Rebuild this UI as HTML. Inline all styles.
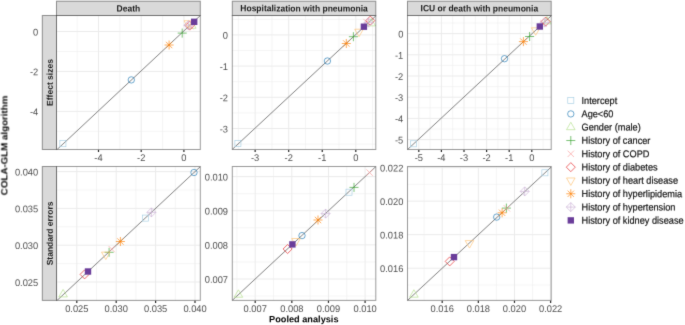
<!DOCTYPE html><html><head><meta charset="utf-8"><style>html,body{margin:0;padding:0;background:#fff;width:685px;height:325px;overflow:hidden}svg{display:block;will-change:transform}text{font-family:"Liberation Sans", sans-serif;text-rendering:geometricPrecision}</style></head><body>
<svg width="685" height="325" viewBox="0 0 685 325">
<rect width="685" height="325" fill="#fff"/>
<defs><filter id="bl" x="0" y="0" width="685" height="325" filterUnits="userSpaceOnUse" color-interpolation-filters="sRGB"><feConvolveMatrix order="3" kernelMatrix="0.0183 0.1353 0.0183 0.1353 1 0.1353 0.0183 0.1353 0.0183" edgeMode="duplicate" preserveAlpha="false"/></filter>
<clipPath id="cp00"><rect x="56.5" y="15.5" width="143.8" height="134"/></clipPath>
<clipPath id="cp01"><rect x="232.3" y="15.5" width="143.5" height="134"/></clipPath>
<clipPath id="cp02"><rect x="407.5" y="15.5" width="143.7" height="134"/></clipPath>
<clipPath id="cp10"><rect x="56.5" y="166.5" width="143.8" height="133.9"/></clipPath>
<clipPath id="cp11"><rect x="232.3" y="166.5" width="143.5" height="133.9"/></clipPath>
<clipPath id="cp12"><rect x="407.5" y="166.5" width="143.7" height="133.9"/></clipPath>
</defs>
<g filter="url(#bl)">
<rect width="685" height="325" fill="#fff"/>
<g clip-path="url(#cp00)">
<line x1="77.15" y1="15.5" x2="77.15" y2="149.5" stroke="#ececec" stroke-width="0.55"/>
<line x1="119.85" y1="15.5" x2="119.85" y2="149.5" stroke="#ececec" stroke-width="0.55"/>
<line x1="162.55" y1="15.5" x2="162.55" y2="149.5" stroke="#ececec" stroke-width="0.55"/>
<line x1="56.5" y1="131.35" x2="200.3" y2="131.35" stroke="#ececec" stroke-width="0.55"/>
<line x1="56.5" y1="91.41" x2="200.3" y2="91.41" stroke="#ececec" stroke-width="0.55"/>
<line x1="56.5" y1="51.47" x2="200.3" y2="51.47" stroke="#ececec" stroke-width="0.55"/>
<line x1="98.5" y1="15.5" x2="98.5" y2="149.5" stroke="#ebebeb" stroke-width="1"/>
<line x1="141.2" y1="15.5" x2="141.2" y2="149.5" stroke="#ebebeb" stroke-width="1"/>
<line x1="183.9" y1="15.5" x2="183.9" y2="149.5" stroke="#ebebeb" stroke-width="1"/>
<line x1="56.5" y1="111.38" x2="200.3" y2="111.38" stroke="#ebebeb" stroke-width="1"/>
<line x1="56.5" y1="71.44" x2="200.3" y2="71.44" stroke="#ebebeb" stroke-width="1"/>
<line x1="56.5" y1="31.5" x2="200.3" y2="31.5" stroke="#ebebeb" stroke-width="1"/>
<line x1="51.5" y1="154.74" x2="205.3" y2="10.88" stroke="#555" stroke-width="0.75"/>
<rect x="59.87" y="140.67" width="6.06" height="6.06" fill="none" stroke="#A6CEE3" stroke-width="0.65"/>
<circle cx="131.3" cy="79.9" r="3.19" fill="none" stroke="#1F78B4" stroke-width="0.65"/>
<polygon points="191.8,20.84 196.09,28.28 187.51,28.28" fill="none" stroke="#B2DF8A" stroke-width="0.65" stroke-linejoin="miter"/>
<path d="M177.69 33.1H186.71M182.2 28.59V37.61" fill="none" stroke="#33A02C" stroke-width="0.65"/>
<path d="M187.11 23.01L193.49 29.39M187.11 29.39L193.49 23.01" fill="none" stroke="#FB9A99" stroke-width="0.65"/>
<polygon points="189.6,21.09 194.11,25.6 189.6,30.11 185.09,25.6" fill="none" stroke="#E31A1C" stroke-width="0.65"/>
<polygon points="188.3,28.16 192.59,20.72 184.01,20.72" fill="none" stroke="#FDBF6F" stroke-width="0.65" stroke-linejoin="miter"/>
<path d="M165.91 41.81L172.29 48.19M165.91 48.19L172.29 41.81M164.59 45H173.61M169.1 40.49V49.51" fill="none" stroke="#FF7F00" stroke-width="0.65"/>
<path d="M188.4 20.69L192.91 25.2L188.4 29.71L183.89 25.2ZM183.89 25.2H192.91M188.4 20.69V29.71" fill="none" stroke="#CAB2D6" stroke-width="0.65"/>
<rect x="191.01" y="18.61" width="6.38" height="6.38" fill="#6A3D9A"/>
</g>
<rect x="56.5" y="15.5" width="143.8" height="134" fill="none" stroke="#000" stroke-opacity="0.4" stroke-width="1"/>
<line x1="98.5" y1="149.9" x2="98.5" y2="152" stroke="#222" stroke-width="1.2"/>
<text transform="translate(98.5 161) rotate(0.05) scale(1 1.04)" font-size="9.3" fill="#4d4d4d" text-anchor="middle">-4</text>
<line x1="141.2" y1="149.9" x2="141.2" y2="152" stroke="#222" stroke-width="1.2"/>
<text transform="translate(141.2 161) rotate(0.05) scale(1 1.04)" font-size="9.3" fill="#4d4d4d" text-anchor="middle">-2</text>
<line x1="183.9" y1="149.9" x2="183.9" y2="152" stroke="#222" stroke-width="1.2"/>
<text transform="translate(183.9 161) rotate(0.05) scale(1 1.04)" font-size="9.3" fill="#4d4d4d" text-anchor="middle">0</text>
<text transform="translate(38.2 115.28) rotate(0.05) scale(1 1.04)" font-size="9.3" fill="#4d4d4d" text-anchor="end">-4</text>
<text transform="translate(38.2 75.34) rotate(0.05) scale(1 1.04)" font-size="9.3" fill="#4d4d4d" text-anchor="end">-2</text>
<text transform="translate(38.2 35.4) rotate(0.05) scale(1 1.04)" font-size="9.3" fill="#4d4d4d" text-anchor="end">0</text>
<g clip-path="url(#cp01)">
<line x1="238.38" y1="15.5" x2="238.38" y2="149.5" stroke="#ececec" stroke-width="0.55"/>
<line x1="271.93" y1="15.5" x2="271.93" y2="149.5" stroke="#ececec" stroke-width="0.55"/>
<line x1="305.48" y1="15.5" x2="305.48" y2="149.5" stroke="#ececec" stroke-width="0.55"/>
<line x1="339.03" y1="15.5" x2="339.03" y2="149.5" stroke="#ececec" stroke-width="0.55"/>
<line x1="372.57" y1="15.5" x2="372.57" y2="149.5" stroke="#ececec" stroke-width="0.55"/>
<line x1="232.3" y1="144.1" x2="375.8" y2="144.1" stroke="#ececec" stroke-width="0.55"/>
<line x1="232.3" y1="112.9" x2="375.8" y2="112.9" stroke="#ececec" stroke-width="0.55"/>
<line x1="232.3" y1="81.7" x2="375.8" y2="81.7" stroke="#ececec" stroke-width="0.55"/>
<line x1="232.3" y1="50.5" x2="375.8" y2="50.5" stroke="#ececec" stroke-width="0.55"/>
<line x1="232.3" y1="19.3" x2="375.8" y2="19.3" stroke="#ececec" stroke-width="0.55"/>
<line x1="255.15" y1="15.5" x2="255.15" y2="149.5" stroke="#ebebeb" stroke-width="1"/>
<line x1="288.7" y1="15.5" x2="288.7" y2="149.5" stroke="#ebebeb" stroke-width="1"/>
<line x1="322.25" y1="15.5" x2="322.25" y2="149.5" stroke="#ebebeb" stroke-width="1"/>
<line x1="355.8" y1="15.5" x2="355.8" y2="149.5" stroke="#ebebeb" stroke-width="1"/>
<line x1="232.3" y1="128.5" x2="375.8" y2="128.5" stroke="#ebebeb" stroke-width="1"/>
<line x1="232.3" y1="97.3" x2="375.8" y2="97.3" stroke="#ebebeb" stroke-width="1"/>
<line x1="232.3" y1="66.1" x2="375.8" y2="66.1" stroke="#ebebeb" stroke-width="1"/>
<line x1="232.3" y1="34.9" x2="375.8" y2="34.9" stroke="#ebebeb" stroke-width="1"/>
<line x1="227.3" y1="154" x2="380.8" y2="11.25" stroke="#555" stroke-width="0.75"/>
<rect x="234.87" y="140.37" width="6.06" height="6.06" fill="none" stroke="#A6CEE3" stroke-width="0.65"/>
<circle cx="327.4" cy="61" r="3.19" fill="none" stroke="#1F78B4" stroke-width="0.65"/>
<polygon points="371.2,18.44 375.49,25.88 366.91,25.88" fill="none" stroke="#B2DF8A" stroke-width="0.65" stroke-linejoin="miter"/>
<path d="M348.89 36.7H357.91M353.4 32.19V41.21" fill="none" stroke="#33A02C" stroke-width="0.65"/>
<path d="M363.31 18.81L369.69 25.19M363.31 25.19L369.69 18.81" fill="none" stroke="#FB9A99" stroke-width="0.65"/>
<polygon points="370.3,16.09 374.81,20.6 370.3,25.11 365.79,20.6" fill="none" stroke="#E31A1C" stroke-width="0.65"/>
<polygon points="359,36.66 363.29,29.22 354.71,29.22" fill="none" stroke="#FDBF6F" stroke-width="0.65" stroke-linejoin="miter"/>
<path d="M343.11 40.31L349.49 46.69M343.11 46.69L349.49 40.31M341.79 43.5H350.81M346.3 38.99V48.01" fill="none" stroke="#FF7F00" stroke-width="0.65"/>
<path d="M368.5 18.09L373.01 22.6L368.5 27.11L363.99 22.6ZM363.99 22.6H373.01M368.5 18.09V27.11" fill="none" stroke="#CAB2D6" stroke-width="0.65"/>
<rect x="360.71" y="23.51" width="6.38" height="6.38" fill="#6A3D9A"/>
</g>
<rect x="232.3" y="15.5" width="143.5" height="134" fill="none" stroke="#000" stroke-opacity="0.4" stroke-width="1"/>
<line x1="255.15" y1="149.9" x2="255.15" y2="152" stroke="#222" stroke-width="1.2"/>
<text transform="translate(255.15 161) rotate(0.05) scale(1 1.04)" font-size="9.3" fill="#4d4d4d" text-anchor="middle">-3</text>
<line x1="288.7" y1="149.9" x2="288.7" y2="152" stroke="#222" stroke-width="1.2"/>
<text transform="translate(288.7 161) rotate(0.05) scale(1 1.04)" font-size="9.3" fill="#4d4d4d" text-anchor="middle">-2</text>
<line x1="322.25" y1="149.9" x2="322.25" y2="152" stroke="#222" stroke-width="1.2"/>
<text transform="translate(322.25 161) rotate(0.05) scale(1 1.04)" font-size="9.3" fill="#4d4d4d" text-anchor="middle">-1</text>
<line x1="355.8" y1="149.9" x2="355.8" y2="152" stroke="#222" stroke-width="1.2"/>
<text transform="translate(355.8 161) rotate(0.05) scale(1 1.04)" font-size="9.3" fill="#4d4d4d" text-anchor="middle">0</text>
<text transform="translate(228 132.4) rotate(0.05) scale(1 1.04)" font-size="9.3" fill="#4d4d4d" text-anchor="end">-3</text>
<text transform="translate(228 101.2) rotate(0.05) scale(1 1.04)" font-size="9.3" fill="#4d4d4d" text-anchor="end">-2</text>
<text transform="translate(228 70) rotate(0.05) scale(1 1.04)" font-size="9.3" fill="#4d4d4d" text-anchor="end">-1</text>
<text transform="translate(228 38.8) rotate(0.05) scale(1 1.04)" font-size="9.3" fill="#4d4d4d" text-anchor="end">0</text>
<g clip-path="url(#cp02)">
<line x1="407.5" y1="15.5" x2="407.5" y2="149.5" stroke="#ececec" stroke-width="0.55"/>
<line x1="430.1" y1="15.5" x2="430.1" y2="149.5" stroke="#ececec" stroke-width="0.55"/>
<line x1="452.7" y1="15.5" x2="452.7" y2="149.5" stroke="#ececec" stroke-width="0.55"/>
<line x1="475.3" y1="15.5" x2="475.3" y2="149.5" stroke="#ececec" stroke-width="0.55"/>
<line x1="497.9" y1="15.5" x2="497.9" y2="149.5" stroke="#ececec" stroke-width="0.55"/>
<line x1="520.5" y1="15.5" x2="520.5" y2="149.5" stroke="#ececec" stroke-width="0.55"/>
<line x1="543.1" y1="15.5" x2="543.1" y2="149.5" stroke="#ececec" stroke-width="0.55"/>
<line x1="407.5" y1="150.2" x2="551.2" y2="150.2" stroke="#ececec" stroke-width="0.55"/>
<line x1="407.5" y1="129" x2="551.2" y2="129" stroke="#ececec" stroke-width="0.55"/>
<line x1="407.5" y1="107.8" x2="551.2" y2="107.8" stroke="#ececec" stroke-width="0.55"/>
<line x1="407.5" y1="86.6" x2="551.2" y2="86.6" stroke="#ececec" stroke-width="0.55"/>
<line x1="407.5" y1="65.4" x2="551.2" y2="65.4" stroke="#ececec" stroke-width="0.55"/>
<line x1="407.5" y1="44.2" x2="551.2" y2="44.2" stroke="#ececec" stroke-width="0.55"/>
<line x1="407.5" y1="23" x2="551.2" y2="23" stroke="#ececec" stroke-width="0.55"/>
<line x1="418.8" y1="15.5" x2="418.8" y2="149.5" stroke="#ebebeb" stroke-width="1"/>
<line x1="441.4" y1="15.5" x2="441.4" y2="149.5" stroke="#ebebeb" stroke-width="1"/>
<line x1="464" y1="15.5" x2="464" y2="149.5" stroke="#ebebeb" stroke-width="1"/>
<line x1="486.6" y1="15.5" x2="486.6" y2="149.5" stroke="#ebebeb" stroke-width="1"/>
<line x1="509.2" y1="15.5" x2="509.2" y2="149.5" stroke="#ebebeb" stroke-width="1"/>
<line x1="531.8" y1="15.5" x2="531.8" y2="149.5" stroke="#ebebeb" stroke-width="1"/>
<line x1="407.5" y1="139.6" x2="551.2" y2="139.6" stroke="#ebebeb" stroke-width="1"/>
<line x1="407.5" y1="118.4" x2="551.2" y2="118.4" stroke="#ebebeb" stroke-width="1"/>
<line x1="407.5" y1="97.2" x2="551.2" y2="97.2" stroke="#ebebeb" stroke-width="1"/>
<line x1="407.5" y1="76" x2="551.2" y2="76" stroke="#ebebeb" stroke-width="1"/>
<line x1="407.5" y1="54.8" x2="551.2" y2="54.8" stroke="#ebebeb" stroke-width="1"/>
<line x1="407.5" y1="33.6" x2="551.2" y2="33.6" stroke="#ebebeb" stroke-width="1"/>
<line x1="402.5" y1="154.22" x2="556.2" y2="11.18" stroke="#555" stroke-width="0.75"/>
<rect x="410.37" y="140.77" width="6.06" height="6.06" fill="none" stroke="#A6CEE3" stroke-width="0.65"/>
<circle cx="504.5" cy="58.7" r="3.19" fill="none" stroke="#1F78B4" stroke-width="0.65"/>
<polygon points="547,16.44 551.29,23.88 542.71,23.88" fill="none" stroke="#B2DF8A" stroke-width="0.65" stroke-linejoin="miter"/>
<path d="M525.09 36.5H534.11M529.6 31.99V41.01" fill="none" stroke="#33A02C" stroke-width="0.65"/>
<path d="M540.31 20.01L546.69 26.39M540.31 26.39L546.69 20.01" fill="none" stroke="#FB9A99" stroke-width="0.65"/>
<polygon points="545.6,17.09 550.11,21.6 545.6,26.11 541.09,21.6" fill="none" stroke="#E31A1C" stroke-width="0.65"/>
<polygon points="535.7,35.26 539.99,27.82 531.41,27.82" fill="none" stroke="#FDBF6F" stroke-width="0.65" stroke-linejoin="miter"/>
<path d="M520.21 38.41L526.59 44.79M520.21 44.79L526.59 38.41M518.89 41.6H527.91M523.4 37.09V46.11" fill="none" stroke="#FF7F00" stroke-width="0.65"/>
<path d="M544.6 18.09L549.11 22.6L544.6 27.11L540.09 22.6ZM540.09 22.6H549.11M544.6 18.09V27.11" fill="none" stroke="#CAB2D6" stroke-width="0.65"/>
<rect x="536.61" y="23.31" width="6.38" height="6.38" fill="#6A3D9A"/>
</g>
<rect x="407.5" y="15.5" width="143.7" height="134" fill="none" stroke="#000" stroke-opacity="0.4" stroke-width="1"/>
<line x1="418.8" y1="149.9" x2="418.8" y2="152" stroke="#222" stroke-width="1.2"/>
<text transform="translate(418.8 161) rotate(0.05) scale(1 1.04)" font-size="9.3" fill="#4d4d4d" text-anchor="middle">-5</text>
<line x1="441.4" y1="149.9" x2="441.4" y2="152" stroke="#222" stroke-width="1.2"/>
<text transform="translate(441.4 161) rotate(0.05) scale(1 1.04)" font-size="9.3" fill="#4d4d4d" text-anchor="middle">-4</text>
<line x1="464" y1="149.9" x2="464" y2="152" stroke="#222" stroke-width="1.2"/>
<text transform="translate(464 161) rotate(0.05) scale(1 1.04)" font-size="9.3" fill="#4d4d4d" text-anchor="middle">-3</text>
<line x1="486.6" y1="149.9" x2="486.6" y2="152" stroke="#222" stroke-width="1.2"/>
<text transform="translate(486.6 161) rotate(0.05) scale(1 1.04)" font-size="9.3" fill="#4d4d4d" text-anchor="middle">-2</text>
<line x1="509.2" y1="149.9" x2="509.2" y2="152" stroke="#222" stroke-width="1.2"/>
<text transform="translate(509.2 161) rotate(0.05) scale(1 1.04)" font-size="9.3" fill="#4d4d4d" text-anchor="middle">-1</text>
<line x1="531.8" y1="149.9" x2="531.8" y2="152" stroke="#222" stroke-width="1.2"/>
<text transform="translate(531.8 161) rotate(0.05) scale(1 1.04)" font-size="9.3" fill="#4d4d4d" text-anchor="middle">0</text>
<text transform="translate(403.3 143.5) rotate(0.05) scale(1 1.04)" font-size="9.3" fill="#4d4d4d" text-anchor="end">-5</text>
<text transform="translate(403.3 122.3) rotate(0.05) scale(1 1.04)" font-size="9.3" fill="#4d4d4d" text-anchor="end">-4</text>
<text transform="translate(403.3 101.1) rotate(0.05) scale(1 1.04)" font-size="9.3" fill="#4d4d4d" text-anchor="end">-3</text>
<text transform="translate(403.3 79.9) rotate(0.05) scale(1 1.04)" font-size="9.3" fill="#4d4d4d" text-anchor="end">-2</text>
<text transform="translate(403.3 58.7) rotate(0.05) scale(1 1.04)" font-size="9.3" fill="#4d4d4d" text-anchor="end">-1</text>
<text transform="translate(403.3 37.5) rotate(0.05) scale(1 1.04)" font-size="9.3" fill="#4d4d4d" text-anchor="end">0</text>
<g clip-path="url(#cp10)">
<line x1="57.1" y1="166.5" x2="57.1" y2="300.4" stroke="#ececec" stroke-width="0.55"/>
<line x1="96.5" y1="166.5" x2="96.5" y2="300.4" stroke="#ececec" stroke-width="0.55"/>
<line x1="135.9" y1="166.5" x2="135.9" y2="300.4" stroke="#ececec" stroke-width="0.55"/>
<line x1="175.3" y1="166.5" x2="175.3" y2="300.4" stroke="#ececec" stroke-width="0.55"/>
<line x1="56.5" y1="300.4" x2="200.3" y2="300.4" stroke="#ececec" stroke-width="0.55"/>
<line x1="56.5" y1="263.6" x2="200.3" y2="263.6" stroke="#ececec" stroke-width="0.55"/>
<line x1="56.5" y1="226.8" x2="200.3" y2="226.8" stroke="#ececec" stroke-width="0.55"/>
<line x1="56.5" y1="190" x2="200.3" y2="190" stroke="#ececec" stroke-width="0.55"/>
<line x1="76.8" y1="166.5" x2="76.8" y2="300.4" stroke="#ebebeb" stroke-width="1"/>
<line x1="116.2" y1="166.5" x2="116.2" y2="300.4" stroke="#ebebeb" stroke-width="1"/>
<line x1="155.6" y1="166.5" x2="155.6" y2="300.4" stroke="#ebebeb" stroke-width="1"/>
<line x1="195" y1="166.5" x2="195" y2="300.4" stroke="#ebebeb" stroke-width="1"/>
<line x1="56.5" y1="282" x2="200.3" y2="282" stroke="#ebebeb" stroke-width="1"/>
<line x1="56.5" y1="245.2" x2="200.3" y2="245.2" stroke="#ebebeb" stroke-width="1"/>
<line x1="56.5" y1="208.4" x2="200.3" y2="208.4" stroke="#ebebeb" stroke-width="1"/>
<line x1="56.5" y1="171.6" x2="200.3" y2="171.6" stroke="#ebebeb" stroke-width="1"/>
<line x1="51.5" y1="305.63" x2="205.3" y2="161.98" stroke="#555" stroke-width="0.75"/>
<rect x="142.47" y="215.07" width="6.06" height="6.06" fill="none" stroke="#A6CEE3" stroke-width="0.65"/>
<circle cx="194" cy="172.5" r="3.19" fill="none" stroke="#1F78B4" stroke-width="0.65"/>
<polygon points="63.1,289.44 67.39,296.88 58.81,296.88" fill="none" stroke="#B2DF8A" stroke-width="0.65" stroke-linejoin="miter"/>
<path d="M104.59 252.3H113.61M109.1 247.79V256.81" fill="none" stroke="#33A02C" stroke-width="0.65"/>
<path d="M108.51 245.91L114.89 252.29M108.51 252.29L114.89 245.91" fill="none" stroke="#FB9A99" stroke-width="0.65"/>
<polygon points="84.6,269.89 89.11,274.4 84.6,278.91 80.09,274.4" fill="none" stroke="#E31A1C" stroke-width="0.65"/>
<polygon points="105.8,259.56 110.09,252.12 101.51,252.12" fill="none" stroke="#FDBF6F" stroke-width="0.65" stroke-linejoin="miter"/>
<path d="M117.21 238.31L123.59 244.69M117.21 244.69L123.59 238.31M115.89 241.5H124.91M120.4 236.99V246.01" fill="none" stroke="#FF7F00" stroke-width="0.65"/>
<path d="M151.4 207.89L155.91 212.4L151.4 216.91L146.89 212.4ZM146.89 212.4H155.91M151.4 207.89V216.91" fill="none" stroke="#CAB2D6" stroke-width="0.65"/>
<rect x="84.81" y="268.31" width="6.38" height="6.38" fill="#6A3D9A"/>
</g>
<rect x="56.5" y="166.5" width="143.8" height="133.9" fill="none" stroke="#000" stroke-opacity="0.4" stroke-width="1"/>
<line x1="76.8" y1="300.8" x2="76.8" y2="302.9" stroke="#222" stroke-width="1.2"/>
<text transform="translate(76.8 311.9) rotate(0.05) scale(1 1.04)" font-size="9.3" fill="#4d4d4d" text-anchor="middle">0.025</text>
<line x1="116.2" y1="300.8" x2="116.2" y2="302.9" stroke="#222" stroke-width="1.2"/>
<text transform="translate(116.2 311.9) rotate(0.05) scale(1 1.04)" font-size="9.3" fill="#4d4d4d" text-anchor="middle">0.030</text>
<line x1="155.6" y1="300.8" x2="155.6" y2="302.9" stroke="#222" stroke-width="1.2"/>
<text transform="translate(155.6 311.9) rotate(0.05) scale(1 1.04)" font-size="9.3" fill="#4d4d4d" text-anchor="middle">0.035</text>
<line x1="195" y1="300.8" x2="195" y2="302.9" stroke="#222" stroke-width="1.2"/>
<text transform="translate(195 311.9) rotate(0.05) scale(1 1.04)" font-size="9.3" fill="#4d4d4d" text-anchor="middle">0.040</text>
<text transform="translate(38.2 285.9) rotate(0.05) scale(1 1.04)" font-size="9.3" fill="#4d4d4d" text-anchor="end">0.025</text>
<text transform="translate(38.2 249.1) rotate(0.05) scale(1 1.04)" font-size="9.3" fill="#4d4d4d" text-anchor="end">0.030</text>
<text transform="translate(38.2 212.3) rotate(0.05) scale(1 1.04)" font-size="9.3" fill="#4d4d4d" text-anchor="end">0.035</text>
<text transform="translate(38.2 175.5) rotate(0.05) scale(1 1.04)" font-size="9.3" fill="#4d4d4d" text-anchor="end">0.040</text>
<g clip-path="url(#cp11)">
<line x1="236.88" y1="166.5" x2="236.88" y2="300.4" stroke="#ececec" stroke-width="0.55"/>
<line x1="273.51" y1="166.5" x2="273.51" y2="300.4" stroke="#ececec" stroke-width="0.55"/>
<line x1="310.14" y1="166.5" x2="310.14" y2="300.4" stroke="#ececec" stroke-width="0.55"/>
<line x1="346.77" y1="166.5" x2="346.77" y2="300.4" stroke="#ececec" stroke-width="0.55"/>
<line x1="232.3" y1="296.06" x2="375.8" y2="296.06" stroke="#ececec" stroke-width="0.55"/>
<line x1="232.3" y1="261.93" x2="375.8" y2="261.93" stroke="#ececec" stroke-width="0.55"/>
<line x1="232.3" y1="227.79" x2="375.8" y2="227.79" stroke="#ececec" stroke-width="0.55"/>
<line x1="232.3" y1="193.67" x2="375.8" y2="193.67" stroke="#ececec" stroke-width="0.55"/>
<line x1="255.2" y1="166.5" x2="255.2" y2="300.4" stroke="#ebebeb" stroke-width="1"/>
<line x1="291.83" y1="166.5" x2="291.83" y2="300.4" stroke="#ebebeb" stroke-width="1"/>
<line x1="328.46" y1="166.5" x2="328.46" y2="300.4" stroke="#ebebeb" stroke-width="1"/>
<line x1="365.09" y1="166.5" x2="365.09" y2="300.4" stroke="#ebebeb" stroke-width="1"/>
<line x1="232.3" y1="278.99" x2="375.8" y2="278.99" stroke="#ebebeb" stroke-width="1"/>
<line x1="232.3" y1="244.86" x2="375.8" y2="244.86" stroke="#ebebeb" stroke-width="1"/>
<line x1="232.3" y1="210.73" x2="375.8" y2="210.73" stroke="#ebebeb" stroke-width="1"/>
<line x1="232.3" y1="176.6" x2="375.8" y2="176.6" stroke="#ebebeb" stroke-width="1"/>
<line x1="227.3" y1="304.99" x2="380.8" y2="161.96" stroke="#555" stroke-width="0.75"/>
<rect x="345.97" y="189.17" width="6.06" height="6.06" fill="none" stroke="#A6CEE3" stroke-width="0.65"/>
<circle cx="302" cy="235.6" r="3.19" fill="none" stroke="#1F78B4" stroke-width="0.65"/>
<polygon points="238.4,289.84 242.69,297.28 234.11,297.28" fill="none" stroke="#B2DF8A" stroke-width="0.65" stroke-linejoin="miter"/>
<path d="M349.49 187.4H358.51M354 182.89V191.91" fill="none" stroke="#33A02C" stroke-width="0.65"/>
<path d="M366.41 169.41L372.79 175.79M366.41 175.79L372.79 169.41" fill="none" stroke="#FB9A99" stroke-width="0.65"/>
<polygon points="287.6,244.49 292.11,249 287.6,253.51 283.09,249" fill="none" stroke="#E31A1C" stroke-width="0.65"/>
<polygon points="296,245.96 300.29,238.52 291.71,238.52" fill="none" stroke="#FDBF6F" stroke-width="0.65" stroke-linejoin="miter"/>
<path d="M314.81 216.81L321.19 223.19M314.81 223.19L321.19 216.81M313.49 220H322.51M318 215.49V224.51" fill="none" stroke="#FF7F00" stroke-width="0.65"/>
<path d="M325.6 209.09L330.11 213.6L325.6 218.11L321.09 213.6ZM321.09 213.6H330.11M325.6 209.09V218.11" fill="none" stroke="#CAB2D6" stroke-width="0.65"/>
<rect x="289.21" y="241.21" width="6.38" height="6.38" fill="#6A3D9A"/>
</g>
<rect x="232.3" y="166.5" width="143.5" height="133.9" fill="none" stroke="#000" stroke-opacity="0.4" stroke-width="1"/>
<line x1="255.2" y1="300.8" x2="255.2" y2="302.9" stroke="#222" stroke-width="1.2"/>
<text transform="translate(255.2 311.9) rotate(0.05) scale(1 1.04)" font-size="9.3" fill="#4d4d4d" text-anchor="middle">0.007</text>
<line x1="291.83" y1="300.8" x2="291.83" y2="302.9" stroke="#222" stroke-width="1.2"/>
<text transform="translate(291.83 311.9) rotate(0.05) scale(1 1.04)" font-size="9.3" fill="#4d4d4d" text-anchor="middle">0.008</text>
<line x1="328.46" y1="300.8" x2="328.46" y2="302.9" stroke="#222" stroke-width="1.2"/>
<text transform="translate(328.46 311.9) rotate(0.05) scale(1 1.04)" font-size="9.3" fill="#4d4d4d" text-anchor="middle">0.009</text>
<line x1="365.09" y1="300.8" x2="365.09" y2="302.9" stroke="#222" stroke-width="1.2"/>
<text transform="translate(365.09 311.9) rotate(0.05) scale(1 1.04)" font-size="9.3" fill="#4d4d4d" text-anchor="middle">0.010</text>
<text transform="translate(228 282.89) rotate(0.05) scale(1 1.04)" font-size="9.3" fill="#4d4d4d" text-anchor="end">0.007</text>
<text transform="translate(228 248.76) rotate(0.05) scale(1 1.04)" font-size="9.3" fill="#4d4d4d" text-anchor="end">0.008</text>
<text transform="translate(228 214.63) rotate(0.05) scale(1 1.04)" font-size="9.3" fill="#4d4d4d" text-anchor="end">0.009</text>
<text transform="translate(228 180.5) rotate(0.05) scale(1 1.04)" font-size="9.3" fill="#4d4d4d" text-anchor="end">0.010</text>
<g clip-path="url(#cp12)">
<line x1="424.13" y1="166.5" x2="424.13" y2="300.4" stroke="#ececec" stroke-width="0.55"/>
<line x1="460.27" y1="166.5" x2="460.27" y2="300.4" stroke="#ececec" stroke-width="0.55"/>
<line x1="496.41" y1="166.5" x2="496.41" y2="300.4" stroke="#ececec" stroke-width="0.55"/>
<line x1="532.55" y1="166.5" x2="532.55" y2="300.4" stroke="#ececec" stroke-width="0.55"/>
<line x1="407.5" y1="284.99" x2="551.2" y2="284.99" stroke="#ececec" stroke-width="0.55"/>
<line x1="407.5" y1="251.45" x2="551.2" y2="251.45" stroke="#ececec" stroke-width="0.55"/>
<line x1="407.5" y1="217.91" x2="551.2" y2="217.91" stroke="#ececec" stroke-width="0.55"/>
<line x1="407.5" y1="184.37" x2="551.2" y2="184.37" stroke="#ececec" stroke-width="0.55"/>
<line x1="442.2" y1="166.5" x2="442.2" y2="300.4" stroke="#ebebeb" stroke-width="1"/>
<line x1="478.34" y1="166.5" x2="478.34" y2="300.4" stroke="#ebebeb" stroke-width="1"/>
<line x1="514.48" y1="166.5" x2="514.48" y2="300.4" stroke="#ebebeb" stroke-width="1"/>
<line x1="550.62" y1="166.5" x2="550.62" y2="300.4" stroke="#ebebeb" stroke-width="1"/>
<line x1="407.5" y1="268.22" x2="551.2" y2="268.22" stroke="#ebebeb" stroke-width="1"/>
<line x1="407.5" y1="234.68" x2="551.2" y2="234.68" stroke="#ebebeb" stroke-width="1"/>
<line x1="407.5" y1="201.14" x2="551.2" y2="201.14" stroke="#ebebeb" stroke-width="1"/>
<line x1="407.5" y1="167.6" x2="551.2" y2="167.6" stroke="#ebebeb" stroke-width="1"/>
<line x1="402.5" y1="305.06" x2="556.2" y2="162.42" stroke="#555" stroke-width="0.75"/>
<rect x="541.87" y="169.77" width="6.06" height="6.06" fill="none" stroke="#A6CEE3" stroke-width="0.65"/>
<circle cx="496.7" cy="217.1" r="3.19" fill="none" stroke="#1F78B4" stroke-width="0.65"/>
<polygon points="413.9,289.74 418.19,297.18 409.61,297.18" fill="none" stroke="#B2DF8A" stroke-width="0.65" stroke-linejoin="miter"/>
<path d="M501.89 208.1H510.91M506.4 203.59V212.61" fill="none" stroke="#33A02C" stroke-width="0.65"/>
<path d="M503.61 205.11L509.99 211.49M503.61 211.49L509.99 205.11" fill="none" stroke="#FB9A99" stroke-width="0.65"/>
<polygon points="449.7,256.89 454.21,261.4 449.7,265.91 445.19,261.4" fill="none" stroke="#E31A1C" stroke-width="0.65"/>
<polygon points="469.5,248.06 473.79,240.62 465.21,240.62" fill="none" stroke="#FDBF6F" stroke-width="0.65" stroke-linejoin="miter"/>
<path d="M498.91 209.61L505.29 215.99M498.91 215.99L505.29 209.61M497.59 212.8H506.61M502.1 208.29V217.31" fill="none" stroke="#FF7F00" stroke-width="0.65"/>
<path d="M524.7 186.89L529.21 191.4L524.7 195.91L520.19 191.4ZM520.19 191.4H529.21M524.7 186.89V195.91" fill="none" stroke="#CAB2D6" stroke-width="0.65"/>
<rect x="450.81" y="253.91" width="6.38" height="6.38" fill="#6A3D9A"/>
</g>
<rect x="407.5" y="166.5" width="143.7" height="133.9" fill="none" stroke="#000" stroke-opacity="0.4" stroke-width="1"/>
<line x1="442.2" y1="300.8" x2="442.2" y2="302.9" stroke="#222" stroke-width="1.2"/>
<text transform="translate(442.2 311.9) rotate(0.05) scale(1 1.04)" font-size="9.3" fill="#4d4d4d" text-anchor="middle">0.016</text>
<line x1="478.34" y1="300.8" x2="478.34" y2="302.9" stroke="#222" stroke-width="1.2"/>
<text transform="translate(478.34 311.9) rotate(0.05) scale(1 1.04)" font-size="9.3" fill="#4d4d4d" text-anchor="middle">0.018</text>
<line x1="514.48" y1="300.8" x2="514.48" y2="302.9" stroke="#222" stroke-width="1.2"/>
<text transform="translate(514.48 311.9) rotate(0.05) scale(1 1.04)" font-size="9.3" fill="#4d4d4d" text-anchor="middle">0.020</text>
<line x1="550.62" y1="300.8" x2="550.62" y2="302.9" stroke="#222" stroke-width="1.2"/>
<text transform="translate(550.62 311.9) rotate(0.05) scale(1 1.04)" font-size="9.3" fill="#4d4d4d" text-anchor="middle">0.022</text>
<text transform="translate(403.3 272.12) rotate(0.05) scale(1 1.04)" font-size="9.3" fill="#4d4d4d" text-anchor="end">0.016</text>
<text transform="translate(403.3 238.58) rotate(0.05) scale(1 1.04)" font-size="9.3" fill="#4d4d4d" text-anchor="end">0.018</text>
<text transform="translate(403.3 205.04) rotate(0.05) scale(1 1.04)" font-size="9.3" fill="#4d4d4d" text-anchor="end">0.020</text>
<text transform="translate(403.3 171.5) rotate(0.05) scale(1 1.04)" font-size="9.3" fill="#4d4d4d" text-anchor="end">0.022</text>
<rect x="56.5" y="1.2" width="143.8" height="14.3" fill="#d9d9d9" stroke="#000" stroke-opacity="0.4" stroke-width="1"/>
<text transform="translate(128.4 11.4) rotate(0.05) scale(1 1.06)" font-size="8.5" font-weight="bold" fill="#1a1a1a" text-anchor="middle">Death</text>
<rect x="232.3" y="1.2" width="143.5" height="14.3" fill="#d9d9d9" stroke="#000" stroke-opacity="0.4" stroke-width="1"/>
<text transform="translate(304.05 11.4) rotate(0.05) scale(1 1.06)" font-size="8.5" font-weight="bold" fill="#1a1a1a" text-anchor="middle">Hospitalization with pneumonia</text>
<rect x="407.5" y="1.2" width="143.7" height="14.3" fill="#d9d9d9" stroke="#000" stroke-opacity="0.4" stroke-width="1"/>
<text transform="translate(479.35 11.4) rotate(0.05) scale(1 1.06)" font-size="8.5" font-weight="bold" fill="#1a1a1a" text-anchor="middle">ICU or death with pneumonia</text>
<rect x="42.3" y="15.5" width="14.2" height="134" fill="#d9d9d9" stroke="#000" stroke-opacity="0.4" stroke-width="1"/>
<text transform="translate(52.8 82.5) rotate(-89.95)" font-size="8.5" font-weight="bold" fill="#1a1a1a" text-anchor="middle">Effect sizes</text>
<rect x="42.3" y="166.5" width="14.2" height="133.9" fill="#d9d9d9" stroke="#000" stroke-opacity="0.4" stroke-width="1"/>
<text transform="translate(52.8 233.45) rotate(-89.95)" font-size="8.5" font-weight="bold" fill="#1a1a1a" text-anchor="middle">Standard errors</text>
<text transform="translate(303.8 322.2) rotate(0.05)" font-size="9.2" font-weight="bold" fill="#000" text-anchor="middle">Pooled analysis</text>
<text transform="translate(7.4 145.4) scale(1 1.09) rotate(-89.95)" font-size="8.95" font-weight="bold" fill="#000" text-anchor="middle">COLA-GLM algorithm</text>
<rect x="567.77" y="97.57" width="6.06" height="6.06" fill="none" stroke="#A6CEE3" stroke-width="0.65"/>
<text transform="translate(581.5 103.9) rotate(0.05) scale(1 1.08)" font-size="9.2" fill="#111" stroke="#111" stroke-width="0.18">Intercept</text>
<circle cx="570.8" cy="113.91" r="3.19" fill="none" stroke="#1F78B4" stroke-width="0.65"/>
<text transform="translate(581.5 117.21) rotate(0.05) scale(1 1.08)" font-size="9.2" fill="#111" stroke="#111" stroke-width="0.18">Age&lt;60</text>
<polygon points="570.8,122.26 575.09,129.7 566.51,129.7" fill="none" stroke="#B2DF8A" stroke-width="0.65" stroke-linejoin="miter"/>
<text transform="translate(581.5 130.52) rotate(0.05) scale(1 1.08)" font-size="9.2" fill="#111" stroke="#111" stroke-width="0.18">Gender (male)</text>
<path d="M566.29 140.53H575.31M570.8 136.02V145.04" fill="none" stroke="#33A02C" stroke-width="0.65"/>
<text transform="translate(581.5 143.83) rotate(0.05) scale(1 1.08)" font-size="9.2" fill="#111" stroke="#111" stroke-width="0.18">History of cancer</text>
<path d="M567.61 150.65L573.99 157.03M567.61 157.03L573.99 150.65" fill="none" stroke="#FB9A99" stroke-width="0.65"/>
<text transform="translate(581.5 157.14) rotate(0.05) scale(1 1.08)" font-size="9.2" fill="#111" stroke="#111" stroke-width="0.18">History of COPD</text>
<polygon points="570.8,162.64 575.31,167.15 570.8,171.66 566.29,167.15" fill="none" stroke="#E31A1C" stroke-width="0.65"/>
<text transform="translate(581.5 170.45) rotate(0.05) scale(1 1.08)" font-size="9.2" fill="#111" stroke="#111" stroke-width="0.18">History of diabetes</text>
<polygon points="570.8,185.42 575.09,177.98 566.51,177.98" fill="none" stroke="#FDBF6F" stroke-width="0.65" stroke-linejoin="miter"/>
<text transform="translate(581.5 183.76) rotate(0.05) scale(1 1.08)" font-size="9.2" fill="#111" stroke="#111" stroke-width="0.18">History of heart disease</text>
<path d="M567.61 190.58L573.99 196.96M567.61 196.96L573.99 190.58M566.29 193.77H575.31M570.8 189.26V198.28" fill="none" stroke="#FF7F00" stroke-width="0.65"/>
<text transform="translate(581.5 197.07) rotate(0.05) scale(1 1.08)" font-size="9.2" fill="#111" stroke="#111" stroke-width="0.18">History of hyperlipidemia</text>
<path d="M570.8 202.57L575.31 207.08L570.8 211.59L566.29 207.08ZM566.29 207.08H575.31M570.8 202.57V211.59" fill="none" stroke="#CAB2D6" stroke-width="0.65"/>
<text transform="translate(581.5 210.38) rotate(0.05) scale(1 1.08)" font-size="9.2" fill="#111" stroke="#111" stroke-width="0.18">History of hypertension</text>
<rect x="567.61" y="217.2" width="6.38" height="6.38" fill="#6A3D9A"/>
<text transform="translate(581.5 223.69) rotate(0.05) scale(1 1.08)" font-size="9.2" fill="#111" stroke="#111" stroke-width="0.18">History of kidney disease</text>
</g></svg></body></html>
